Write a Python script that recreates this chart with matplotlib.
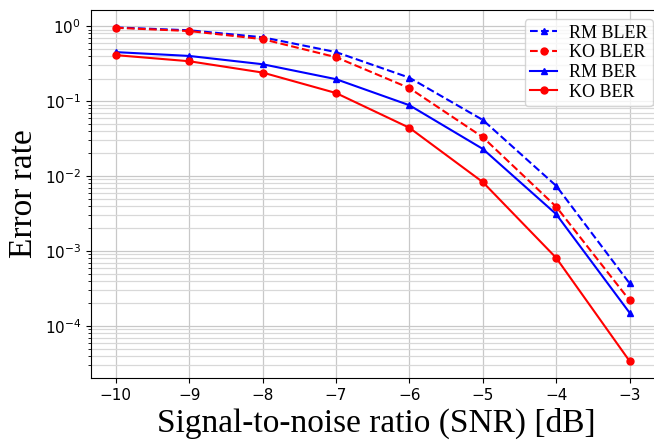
import numpy as np
import matplotlib
matplotlib.use("Agg")
import matplotlib.pyplot as plt

snr = [-10, -9, -8, -7, -6, -5, -4, -3]
rm_bler = [0.96, 0.88, 0.71, 0.45, 0.205, 0.056, 0.0074, 3.7e-4]
ko_bler = [0.95, 0.86, 0.67, 0.385, 0.149, 0.033, 0.0039, 2.2e-4]
rm_ber = [0.45, 0.40, 0.31, 0.196, 0.088, 0.023, 0.0031, 1.5e-4]
ko_ber = [0.41, 0.34, 0.24, 0.128, 0.044, 0.0083, 8.1e-4, 3.4e-5]

fig = plt.figure(figsize=(6.54, 4.44), dpi=100)
# axes run a little past the right edge, as in the cropped original
ax = fig.add_axes([0.139, 0.149, 0.873, 0.828])

ax.semilogy(snr, rm_bler, 'b--^', linewidth=1.5, markersize=5, label='RM BLER')
ax.semilogy(snr, ko_bler, 'r--o', linewidth=1.5, markersize=5, label='KO BLER')
ax.semilogy(snr, rm_ber, 'b-^', linewidth=1.5, markersize=5, label='RM BER')
ax.semilogy(snr, ko_ber, 'r-o', linewidth=1.5, markersize=5, label='KO BER')

ax.set_xlim(-10.34, -2.56)
ax.set_ylim(2.03e-5, 1.63)
ax.set_xticks(snr)
ax.tick_params(labelsize=11)
ax.grid(True, which='major', color='#c8c8c8', linewidth=0.9)
ax.grid(True, which='minor', axis='y', color='#d8d8d8', linewidth=0.9)

ax.set_xlabel('Signal-to-noise ratio (SNR) [dB]', fontsize=24, family='Liberation Serif')
ax.set_ylabel('Error rate', fontsize=24, family='Liberation Serif')

ax.legend(loc='upper right', prop={'family': 'Liberation Serif', 'size': 13},
          handlelength=1.5, borderpad=0.3, labelspacing=0.15, handletextpad=0.65)

fig.savefig('out.png', dpi=100)
